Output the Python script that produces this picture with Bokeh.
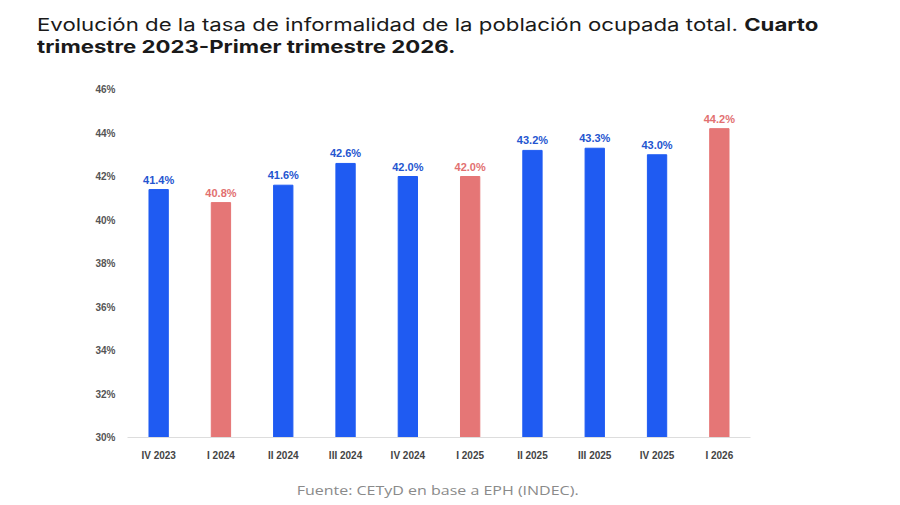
from bokeh.plotting import figure
from bokeh.models import ColumnDataSource, PrintfTickFormatter, FixedTicker, Range1d, Div
from bokeh.layouts import column
from bokeh.embed import file_html
from bokeh.resources import INLINE
from bokeh.core.properties import value

categories = ["IV 2023", "I 2024", "II 2024", "III 2024", "IV 2024",
              "I 2025", "II 2025", "III 2025", "IV 2025", "I 2026"]
values = [41.4, 40.8, 41.6, 42.6, 42.0, 42.0, 43.2, 43.3, 43.0, 44.2]
highlight = [False, True, False, False, False, True, False, False, False, True]
y_ticks = [30, 32, 34, 36, 38, 40, 42, 44, 46]
title_normal = "Evolución de la tasa de informalidad de la población ocupada total."
title_bold_1 = "Cuarto"
title_bold_2 = "trimestre 2023-Primer trimestre 2026."
source_note = "Fuente: CETyD en base a EPH (INDEC)."

BLUE = "#1f5bf2"
RED = "#e57676"
BLUE_TXT = "#2455d0"
RED_TXT = "#e27070"

src = ColumnDataSource(dict(
    cat=categories,
    val=values,
    color=[RED if h else BLUE for h in highlight],
    tcolor=[RED_TXT if h else BLUE_TXT for h in highlight],
    lab=[f"{v:.1f}%" for v in values],
))

p = figure(width=900, height=405, x_range=categories, y_range=Range1d(30, 46),
           output_backend="svg", toolbar_location=None, margin=(0, 0, 0, 0),
           min_border_left=127, min_border_right=150, min_border_top=19, min_border_bottom=38)
p.outline_line_color = None
p.background_fill_color = "white"
p.border_fill_color = "white"
p.xgrid.grid_line_color = None
p.ygrid.grid_line_color = None

p.vbar(x="cat", top="val", bottom=30, width=0.31, color="color", source=src)
p.text(x="cat", y="val", text="lab", text_color="tcolor", source=src,
       text_align="center", text_baseline="bottom", y_offset=-4,
       text_font=value("Arial"), text_font_style="bold", text_font_size="11px")

p.yaxis.ticker = FixedTicker(ticks=y_ticks)
p.yaxis.formatter = PrintfTickFormatter(format="%d%%")
p.yaxis.axis_line_color = None
p.yaxis.major_tick_line_color = None
p.yaxis.minor_tick_line_color = None
p.yaxis.major_label_text_font = "Arial"
p.yaxis.major_label_text_font_style = "bold"
p.yaxis.major_label_text_font_size = "10px"
p.yaxis.major_label_text_color = "#555555"
p.yaxis.major_label_standoff = 6

p.xaxis.axis_line_color = "#dddddd"
p.xaxis.major_tick_line_color = None
p.xaxis.minor_tick_line_color = None
p.xaxis.major_label_text_font = "Arial"
p.xaxis.major_label_text_font_style = "bold"
p.xaxis.major_label_text_font_size = "10px"
p.xaxis.major_label_text_color = "#444444"
p.xaxis.major_label_standoff = 6

title_div = Div(
    text=(f'<div style="font-family: Inter, sans-serif; font-size: 17.5px; line-height: 22px; '
          f'color: #1a1a1a; padding: 14px 0 0 37px; white-space: nowrap;">'
          f'<div style="display: inline-block; transform: scaleX(1.27); transform-origin: 0 0;">'
          f'{title_normal} <b>{title_bold_1}</b><br><b>{title_bold_2}</b></div></div>'),
    width=900, height=70, margin=(0, 0, 0, 0))
foot_div = Div(
    text=(f'<div style="font-family: \'Open Sans\', sans-serif; font-size: 13px; line-height: 30px; '
          f'color: #8a8a8a; text-align: center; width: 876px; white-space: nowrap;">'
          f'<span style="display: inline-block; transform: scaleX(1.23); transform-origin: 50% 50%;">'
          f'{source_note}</span></div>'),
    width=900, height=30, margin=(0, 0, 0, 0))

layout = column(title_div, p, foot_div, spacing=0, margin=(0, 0, 0, 0))
open("out.html", "w").write(file_html(layout, INLINE))
